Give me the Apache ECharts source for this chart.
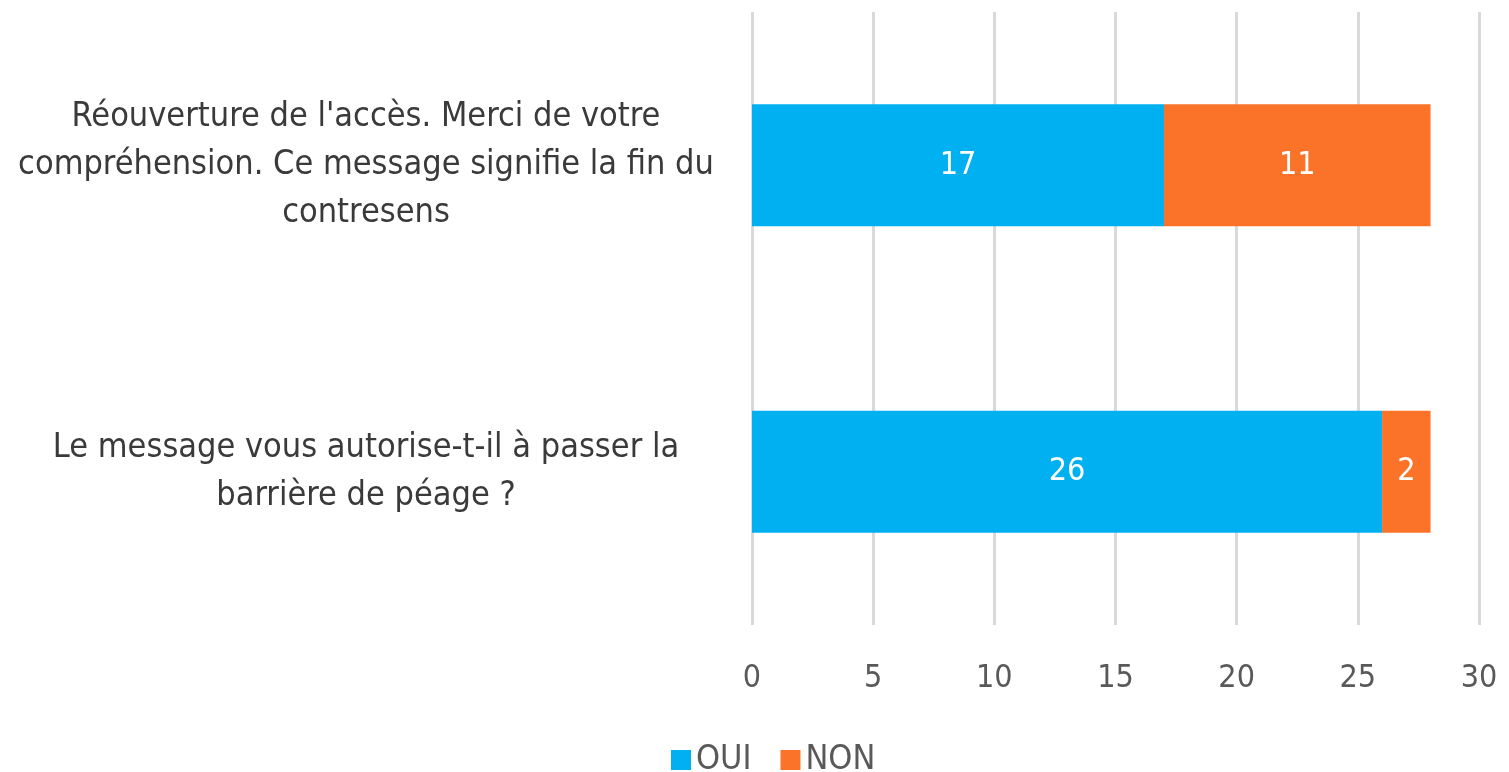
<!DOCTYPE html>
<html>
<head>
<meta charset="utf-8">
<script src="https://cdn.jsdelivr.net/npm/echarts@6/dist/echarts.min.js"></script>
<style>
	html, body { margin: 0; padding: 0; background: #fff; }
	#chart { width: 1509px; height: 772px; }
</style>
</head>
<body>
<div id="chart"></div>
<script>
// questions, top to bottom
const categories = [
	"Réouverture de l'accès. Merci de votre\ncompréhension. Ce message signifie la fin du\ncontresens",
	"Le message vous autorise-t-il à passer la\nbarrière de péage ?",
]
const ouiValues = [17, 26]
const nonValues = [11, 2]
const xTicks = { min: 0, max: 30, interval: 5 }

const font = "'Liberation Sans Narrow', 'DejaVu Sans Condensed', 'Open Sans', sans-serif"

const chart = echarts.init(document.getElementById("chart"))

const makeSeries = (name, data, color) => ({
	name,
	data,
	type: "bar",
	stack: "total",
	barWidth: 122,
	itemStyle: { color },
	label: {
		show: true,
		position: "inside",
		color: "#fff",
		fontFamily: font,
		fontSize: 32,
	},
})

chart.setOption({
	animation: false,
	grid: {
		left: 752,
		right: 30,
		top: 12,
		bottom: 147,
	},
	legend: {
		top: 738,
		left: 666,
		itemWidth: 20,
		itemHeight: 20,
		itemGap: 29,
		icon: "rect",
		textStyle: { color: "#595959", fontFamily: font, fontSize: 34 },
		data: ["OUI", "NON"],
	},
	xAxis: {
		type: "value",
		min: xTicks.min,
		max: xTicks.max,
		interval: xTicks.interval,
		axisLine: { show: false },
		axisTick: { show: false },
		axisLabel: { color: "#595959", fontFamily: font, fontSize: 32, margin: 38 },
		splitLine: { show: true, lineStyle: { color: "#d9d9d9", width: 3 } },
	},
	yAxis: {
		type: "category",
		inverse: true,
		data: categories,
		axisLine: { show: false },
		axisTick: { show: false },
		axisLabel: {
			color: "#3a3a3a",
			fontFamily: font,
			fontSize: 34,
			lineHeight: 48,
			align: "center",
			margin: 386,
			padding: [4, 0, 0, 0],
		},
	},
	series: [
		makeSeries("OUI", ouiValues, "#00B0F0"),
		makeSeries("NON", nonValues, "#FA7328"),
	],
})
</script>
</body>
</html>
